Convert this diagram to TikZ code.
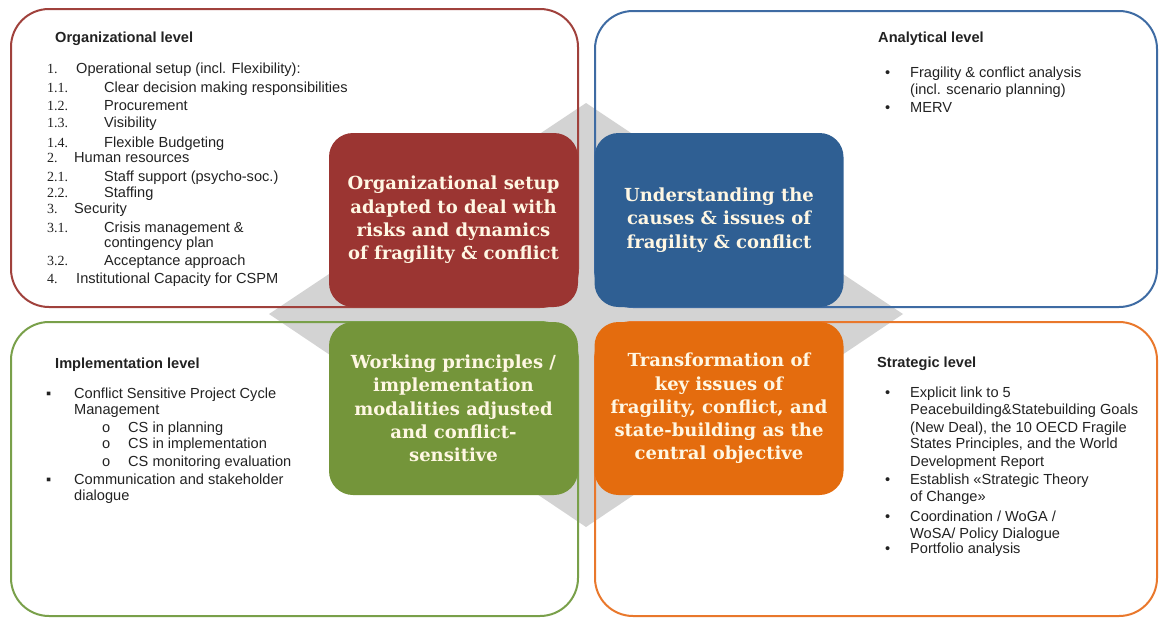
\documentclass[tikz,border=0pt]{standalone}
\usepackage{fontspec}
\setsansfont{Liberation Sans}
\newfontfamily\numfont{Liberation Serif}
\newfontfamily\boxfont{DejaVu Serif}
\usepackage{xcolor}
\definecolor{redc}{HTML}{9B3532}
\definecolor{bluec}{HTML}{2F5F93}
\definecolor{greenc}{HTML}{74953A}
\definecolor{orangec}{HTML}{E46C0E}
\definecolor{redl}{HTML}{A0413C}
\definecolor{bluel}{HTML}{3E6BA3}
\definecolor{greenl}{HTML}{79A04A}
\definecolor{orangel}{HTML}{E9782C}
\definecolor{diagray}{HTML}{D3D3D3}
\definecolor{cream}{HTML}{FFF7E3}
\definecolor{txtgray}{HTML}{222222}

\begin{document}
\begin{tikzpicture}[x=1pt, y=-1pt,
  obox/.style={line width=2pt, rounded corners=38pt},
  cbox/.style={rounded corners=24pt, minimum width=249pt, minimum height=174pt, inner sep=0,
    text=cream, align=center, font=\boxfont\bfseries\fontsize{18}{23.3}\selectfont},
  txt/.style={anchor=base west, yshift=-5pt, inner sep=0, text=txtgray, font=\sffamily\fontsize{14.6}{17}\selectfont},
  head/.style={txt, font=\sffamily\bfseries\fontsize{14.6}{17}\selectfont},
  num/.style={txt, font=\numfont\fontsize{14}{17}\selectfont}]
\useasboundingbox (0,0) rectangle (1159,619);
\fill[diagray] (269,314) -- (586,103) -- (903,314) -- (586,527) -- cycle;
\draw[obox, redl] (11,9) rectangle (578,307);
\draw[obox, bluel] (595,11) rectangle (1157,307);
\draw[obox, greenl] (11,322) rectangle (578,616);
\draw[obox, orangel] (595,322) rectangle (1157,616);

\node[cbox, fill=redc] (orgc) at (453.5,220) {Organizational setup\\adapted to deal with\\risks and dynamics\\of fragility \& conflict};
\node[cbox, fill=bluec] (anac) at (719,220) {Understanding the\\causes \& issues of\\fragility \& conflict};
\node[cbox, fill=greenc, minimum height=173pt] (impc) at (453.5,408.5) {Working principles /\\implementation\\modalities adjusted\\and conflict-\\sensitive};
\node[cbox, fill=orangec, minimum height=173pt] (strc) at (719,408.5) {Transformation of\\key issues of\\fragility, conflict, and\\state-building as the\\central objective};

\node[head] (orghead) at (55,37) {Organizational level};
\foreach \y/\n/\x/\t [count=\i] in {68/1./76/{Operational setup (incl. Flexibility):},
  87/1.1./104/{Clear decision making responsibilities}, 105/1.2./104/Procurement,
  122/1.3./104/Visibility, 142/1.4./104/{Flexible Budgeting}, 157/2./74/{Human resources},
  176/2.1./104/{Staff support (psycho-soc.)}, 192/2.2./104/Staffing, 208/3./74/Security,
  227/3.1./104/{Crisis management \&}, 242//104/{contingency plan},
  260/3.2./104/{Acceptance approach}, 278/4./76/{Institutional Capacity for CSPM}} {
 \node[num] (orgn-\i) at (47,\y) {\n};
 \node[txt] (orgt-\i) at (\x,\y) {\t};
}

\node[head] (anahead) at (878,37) {Analytical level};
\foreach \y in {72,107} \node[txt] (anab-\y) at (885,\y) {•};
\foreach \y/\t [count=\i] in {72/{Fragility \& conflict analysis}, 89/{(incl. scenario planning)}, 107/MERV}
 \node[txt] (anat-\i) at (910,\y) {\t};

\node[head] (imphead) at (55,363) {Implementation level};
\foreach \y in {393,479} \node[txt] (impb-\y) at (46,\y) {▪};
\foreach \y in {427,443,461} \node[txt] (impo-\y) at (102,\y) {o};
\foreach \y/\x/\t [count=\i] in {393/74/{Conflict Sensitive Project Cycle}, 409/74/Management,
  427/128/{CS in planning}, 443/128/{CS in implementation}, 461/128/{CS monitoring evaluation},
  479/74/{Communication and stakeholder}, 495/74/dialogue}
 \node[txt] (impt-\i) at (\x,\y) {\t};

\node[head] (strhead) at (877,362) {Strategic level};
\foreach \y in {392,479,516,548} \node[txt] (strb-\y) at (885,\y) {•};
\foreach \y/\t [count=\i] in {392/{Explicit link to 5}, 409/{Peacebuilding\&Statebuilding Goals},
  427/{(New Deal), the 10 OECD Fragile}, 443/{States Principles, and the World},
  461/{Development Report}, 479/{Establish «Strategic Theory}, 496/{of Change»},
  516/{Coordination / WoGA /}, 533/{WoSA/ Policy Dialogue}, 548/{Portfolio analysis}}
 \node[txt] (strt-\i) at (910,\y) {\t};
\end{tikzpicture}
\end{document}
